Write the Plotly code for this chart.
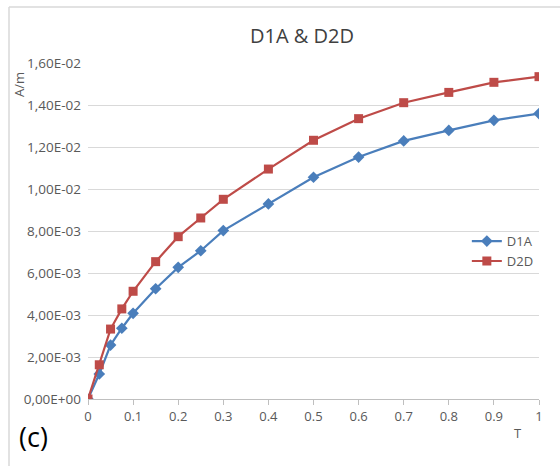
import plotly.graph_objects as go

t_vals = [0, 0.025, 0.05, 0.075, 0.1, 0.15, 0.2, 0.25, 0.3, 0.4, 0.5, 0.6, 0.7, 0.8, 0.9, 1.0]
d1a = [0, 0.00119, 0.00257, 0.00337, 0.00408, 0.00525, 0.00627, 0.00706, 0.00802,
       0.00929, 0.01056, 0.01152, 0.01229, 0.01279, 0.01327, 0.01359]
d2d = [0, 0.00163, 0.00333, 0.00429, 0.00513, 0.00654, 0.00773, 0.00862, 0.00951,
       0.01095, 0.01232, 0.01335, 0.01411, 0.01460, 0.01508, 0.01535]
y_tickvals = [0, 0.002, 0.004, 0.006, 0.008, 0.010, 0.012, 0.014, 0.016]
y_ticktext = ["0,00E+00", "2,00E-03", "4,00E-03", "6,00E-03", "8,00E-03",
              "1,00E-02", "1,20E-02", "1,40E-02", "1,60E-02"]
x_tickvals = [0, 0.1, 0.2, 0.3, 0.4, 0.5, 0.6, 0.7, 0.8, 0.9, 1]
x_ticktext = ["0", "0.1", "0.2", "0.3", "0.4", "0.5", "0.6", "0.7", "0.8", "0.9", "1"]

FONT = "Open Sans, Liberation Sans, sans-serif"
GRAY = "#595959"

fig = go.Figure()
fig.add_trace(go.Scatter(x=t_vals, y=d1a, name="D1A", mode="lines+markers",
                         line=dict(color="#4A7EBB", width=2.2),
                         marker=dict(symbol="diamond", size=9, color="#4A7EBB")))
fig.add_trace(go.Scatter(x=t_vals, y=d2d, name="D2D", mode="lines+markers",
                         line=dict(color="#BE4B48", width=2.2),
                         marker=dict(symbol="square", size=9, color="#BE4B48")))

fig.update_layout(
    width=560, height=466,
    margin=dict(l=88, r=21, t=63, b=67),
    paper_bgcolor="white", plot_bgcolor="white",
    font=dict(family=FONT, size=13, color=GRAY),
    title=dict(text="D1A & D2D", x=302 / 560, xanchor="center",
               y=1 - 36 / 466, yanchor="middle",
               font=dict(size=20, color="#404040", family=FONT)),
    showlegend=True,
    legend=dict(x=0.84, y=0.44, xanchor="left", yanchor="middle",
                bgcolor="rgba(0,0,0,0)", font=dict(size=13, color=GRAY),
                itemwidth=30, tracegroupgap=2),
    xaxis=dict(range=[0, 1], tickvals=x_tickvals, ticktext=x_ticktext,
               showgrid=False, zeroline=False, showline=True, linecolor="#BFBFBF",
               linewidth=1, ticks="outside", ticklen=5, tickcolor="#BFBFBF",
               tickfont=dict(size=13, color=GRAY)),
    yaxis=dict(range=[0, 0.016], tickvals=y_tickvals, ticktext=y_ticktext,
               showgrid=True, gridcolor="#D9D9D9", gridwidth=1, zeroline=False,
               showline=False, ticks="", ticklabelstandoff=6,
               tickfont=dict(size=13.5, color=GRAY)),
)

fig.add_annotation(text="A/m", xref="paper", yref="paper",
                   x=(19 - 88) / 451, y=(399 - 85) / 336, textangle=-90,
                   showarrow=False, font=dict(size=13, color=GRAY),
                   xanchor="center", yanchor="middle")
fig.add_annotation(text="T", xref="paper", yref="paper",
                   x=(518 - 88) / 451, y=(399 - 433) / 336,
                   showarrow=False, font=dict(size=13, color=GRAY),
                   xanchor="center", yanchor="middle")
fig.add_annotation(text="(c)", xref="paper", yref="paper",
                   x=(33 - 88) / 451, y=(399 - 436) / 336,
                   showarrow=False, font=dict(size=27, color="black"),
                   xanchor="center", yanchor="middle")

# outer chart border (top and left visible)
fig.add_shape(type="line", xref="paper", yref="paper",
              x0=(9 - 88) / 451, x1=(560 - 88) / 451,
              y0=(399 - 7) / 336, y1=(399 - 7) / 336,
              line=dict(color="#D9D9D9", width=1.5))
fig.add_shape(type="line", xref="paper", yref="paper",
              x0=(9 - 88) / 451, x1=(9 - 88) / 451,
              y0=(399 - 7) / 336, y1=(399 - 470) / 336,
              line=dict(color="#D9D9D9", width=1.5))

fig.write_html("out.html")
